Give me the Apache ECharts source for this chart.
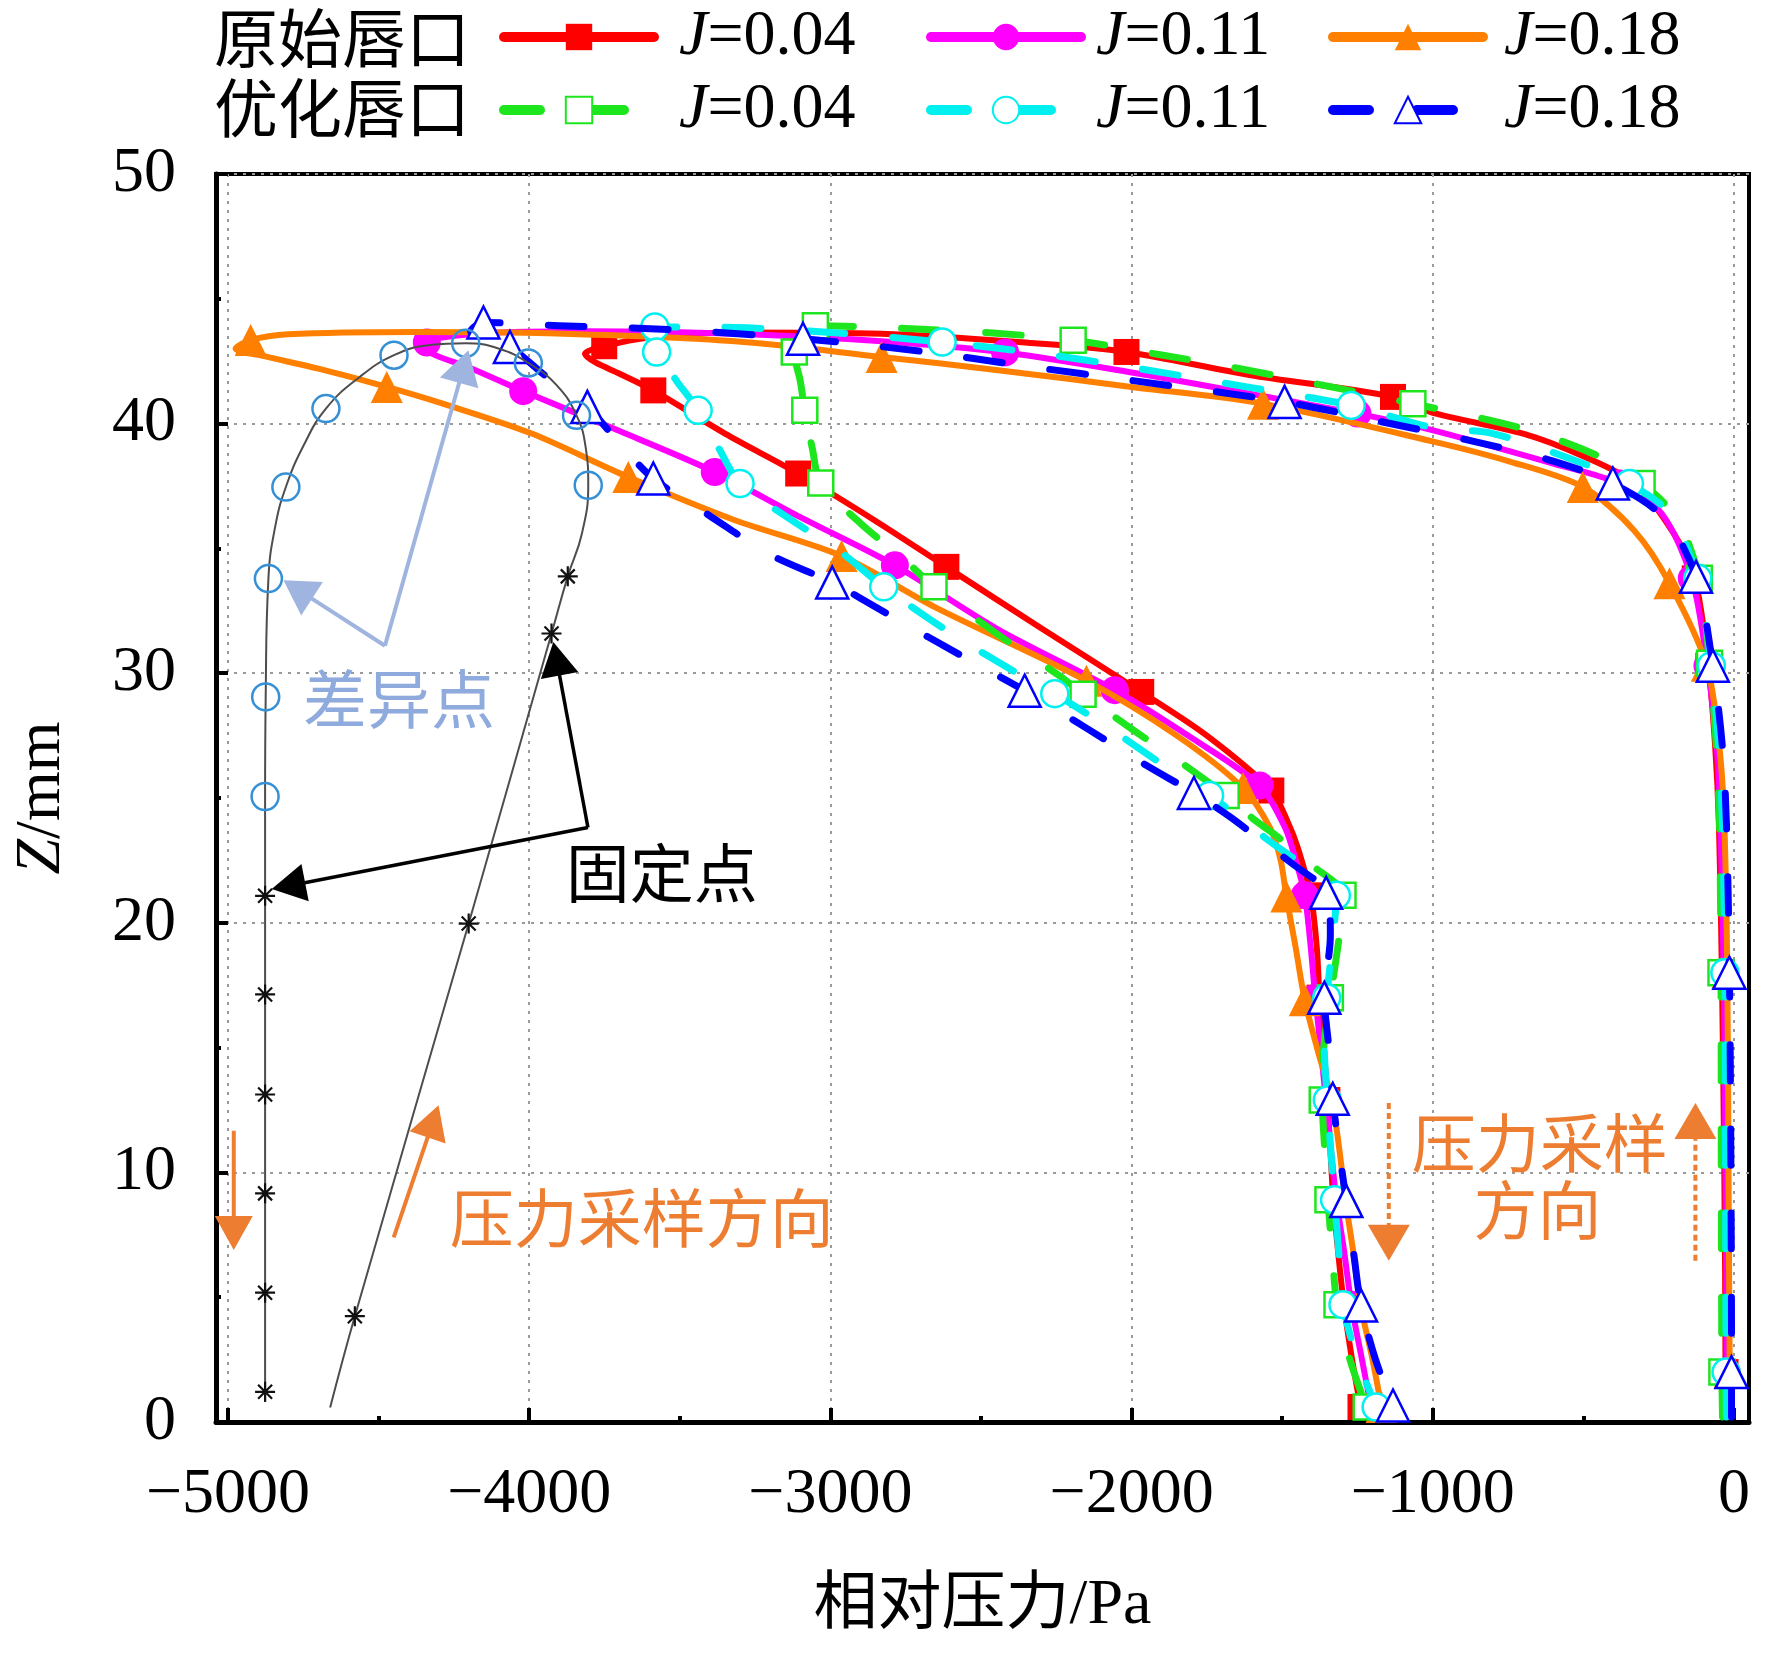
<!DOCTYPE html>
<html><head><meta charset="utf-8">
<script src="https://cdn.jsdelivr.net/npm/echarts@6/dist/echarts.min.js"></script>
<style>html,body{margin:0;padding:0;background:#fff}#c{width:1772px;height:1654px}</style>
</head><body><div id="c"></div>
<script>
// [pressure Pa, Z mm, marker flag]
const origJ004 = [[-28,0.2,0],[-28,2.0,1],[-32,10,0],[-40,18,1],[-50,24,0],[-62,27,0],[-85,30.3,1],[-130,33.8,1],[-200,35.6,0],[-330,37.6,1],[-502,38.7,0],[-700,39.6,0],[-1005,40.45,0],[-1132,41.07,1],[-1608,41.95,0],[-2017,42.87,1],[-2300,43.2,0],[-2830,43.6,0],[-3317,43.65,0],[-3600,43.45,0],[-3751,43.1,1],[-3815,42.8,0],[-3780,42.45,0],[-3700,42.0,0],[-3588,41.33,1],[-3350,39.6,0],[-3107,38.0,1],[-2850,36.1,0],[-2615,34.26,1],[-2300,31.8,0],[-1968,29.25,1],[-1750,27.5,0],[-1536,25.3,1],[-1480,24,0],[-1448,23,0],[-1405,21.1,1],[-1385,19,0],[-1376,17.0,1],[-1362,15,0],[-1350,12.9,1],[-1340,10.9,0],[-1330,8.9,1],[-1315,6.9,0],[-1295,4.7,1],[-1268,2.5,0],[-1240,0.6,1],[-1238,0.3,0]];
const origJ011 = [[-24,0.2,0],[-24,2.0,1],[-28,10,0],[-34,18,1],[-45,24,0],[-57,27,0],[-88,30.3,1],[-140,33.8,1],[-240,36.4,0],[-380,37.6,1],[-600,38.4,0],[-1005,39.75,0],[-1250,40.4,1],[-1608,41.2,0],[-2000,42.05,0],[-2420,42.85,1],[-2830,43.3,0],[-3317,43.6,0],[-3800,43.7,0],[-4150,43.62,0],[-4340,43.25,1],[-4330,42.85,0],[-4200,42.25,0],[-4020,41.3,1],[-3700,39.7,0],[-3384,38.06,1],[-3100,36.25,0],[-2786,34.32,1],[-2450,31.8,0],[-2056,29.32,1],[-1800,27.4,0],[-1575,25.5,1],[-1490,23.8,0],[-1455,22.5,0],[-1425,21.1,1],[-1405,19,0],[-1390,17.0,1],[-1372,15,0],[-1355,12.9,1],[-1338,10.9,0],[-1320,8.9,1],[-1295,6.9,0],[-1270,4.7,1],[-1235,2.5,0],[-1205,0.6,1],[-1200,0.3,0]];
const origJ018 = [[-12,0.2,0],[-14,2.0,1],[-18,10,0],[-22,18,1],[-32,24,0],[-48,27,0],[-90,30.3,1],[-214,33.6,1],[-330,35.7,0],[-502,37.46,1],[-750,38.5,0],[-1005,39.3,0],[-1564,40.8,1],[-2000,41.47,0],[-2450,42.15,0],[-2830,42.67,1],[-3317,43.3,0],[-3937,43.62,0],[-4379,43.67,0],[-4800,43.58,0],[-4925,43.35,1],[-4975,43.0,0],[-4880,42.7,0],[-4700,42.2,0],[-4473,41.47,1],[-4269,40.73,0],[-3992,39.6,0],[-3671,37.86,1],[-3317,36.13,0],[-2963,34.7,1],[-2653,32.65,0],[-2150,29.7,1],[-1850,27.5,0],[-1630,25.4,1],[-1540,23.8,0],[-1505,22.5,0],[-1486,21.05,1],[-1455,19,0],[-1425,16.9,1],[-1380,14.8,0],[-1335,12.9,1],[-1310,10.9,0],[-1290,8.9,1],[-1265,6.9,0],[-1240,4.7,1],[-1200,2.5,0],[-1170,0.6,1],[-1165,0.3,0]];
const optJ004 = [[-38,0.2,0],[-40,2.0,1],[-42,10,0],[-43,18.0,1],[-48,24,0],[-58,27,0],[-81,30.4,1],[-115,33.8,1],[-190,36.2,0],[-305,37.6,1],[-460,38.75,0],[-700,39.8,0],[-1066,40.8,1],[-1350,41.5,0],[-1640,42.2,0],[-1900,42.75,0],[-2194,43.34,1],[-2450,43.62,0],[-2730,43.8,0],[-3050,43.92,1],[-3110,43.5,0],[-3120,42.87,1],[-3100,41.7,0],[-3085,40.53,1],[-3060,39.0,0],[-3032,37.62,1],[-2900,36.0,0],[-2750,34.5,0],[-2656,33.46,1],[-2450,31.6,0],[-2240,29.9,0],[-2161,29.16,1],[-1980,27.6,0],[-1810,26.2,0],[-1686,25.1,1],[-1600,24.2,0],[-1510,23.4,0],[-1400,22.3,0],[-1298,21.1,1],[-1310,19.5,0],[-1340,17.0,1],[-1362,15,0],[-1367,12.9,1],[-1358,10.8,0],[-1348,8.9,1],[-1334,6.8,0],[-1318,4.7,1],[-1275,2.5,0],[-1221,0.6,1],[-1215,0.3,0]];
const optJ011 = [[-25,0.2,0],[-26,2.0,1],[-28,10,0],[-30,18,1],[-38,24,0],[-50,27,0],[-75,30.3,1],[-120,33.8,1],[-215,36.4,0],[-347,37.6,1],[-500,38.4,0],[-800,39.6,0],[-1005,39.85,0],[-1271,40.73,1],[-1608,41.45,0],[-2000,42.25,0],[-2300,42.8,0],[-2629,43.27,1],[-3000,43.65,0],[-3317,43.85,0],[-3583,43.87,1],[-3605,43.4,0],[-3577,42.87,1],[-3510,41.7,0],[-3439,40.53,1],[-3370,39.0,0],[-3300,37.6,1],[-3150,36.3,0],[-2960,34.8,0],[-2823,33.46,1],[-2600,31.6,0],[-2380,30.0,0],[-2255,29.18,1],[-2050,27.6,0],[-1880,26.2,0],[-1741,25.1,1],[-1640,24.2,0],[-1545,23.3,0],[-1430,22.3,0],[-1320,21.1,1],[-1330,19.5,0],[-1352,17.0,1],[-1360,15,0],[-1350,12.9,1],[-1338,10.8,0],[-1326,8.9,1],[-1312,6.8,0],[-1298,4.7,1],[-1250,2.5,0],[-1188,0.6,1],[-1180,0.3,0]];
const optJ018 = [[-8,0.2,0],[-8,2.0,1],[-10,10,0],[-15,18,1],[-25,24,0],[-38,27,0],[-70,30.3,1],[-126,33.86,1],[-230,36.2,0],[-402,37.6,1],[-600,38.5,0],[-850,39.25,0],[-1180,40.1,0],[-1492,40.87,1],[-2000,41.73,0],[-2350,42.3,0],[-2700,42.9,0],[-3091,43.4,1],[-3500,43.75,0],[-3900,43.92,0],[-4152,44.05,1],[-4195,43.7,0],[-4140,43.35,0],[-4064,43.07,1],[-3950,41.95,0],[-3807,40.67,1],[-3700,39.2,0],[-3588,37.8,1],[-3400,36.3,0],[-3200,34.75,0],[-2994,33.63,1],[-2800,32.3,0],[-2550,30.6,0],[-2355,29.3,1],[-2150,27.8,0],[-1950,26.3,0],[-1793,25.2,1],[-1680,24.3,0],[-1580,23.4,0],[-1470,22.4,0],[-1354,21.2,1],[-1340,19.5,0],[-1360,17.0,1],[-1345,15,0],[-1332,12.95,1],[-1310,10.8,0],[-1287,8.85,1],[-1262,6.7,0],[-1238,4.67,1],[-1190,2.5,0],[-1132,0.66,1],[-1120,0.3,0]];
// schematic curve: marker 1 = fixed point (asterisk), 2 = difference point (circle)
const schematic = [[-4877,0.8,0],[-4877,1.21,1],[-4877,5.18,1],[-4877,9.16,1],[-4877,13.12,1],[-4877,17.13,1],[-4877,21.08,1],[-4877,25.06,2],[-4875,29.05,2],[-4866,33.79,2],[-4843,35.9,0],[-4808,37.46,2],[-4750,39.1,0],[-4675,40.6,2],[-4565,41.85,0],[-4449,42.74,2],[-4330,43.15,0],[-4211,43.22,2],[-4100,43.0,0],[-4003,42.43,2],[-3910,41.55,0],[-3843,40.33,2],[-3812,39.0,0],[-3804,37.53,2],[-3825,35.6,0],[-3872,33.88,1],[-3926,31.59,1],[-4201,19.97,1],[-4579,4.24,1],[-4661,0.58,0]];
const xTicks = [-5000,-4000,-3000,-2000,-1000,0];
const xMinorTicks = [-4500,-3500,-2500,-1500,-500];
const seriesNames = ['原始唇口 J=0.04','原始唇口 J=0.11','原始唇口 J=0.18','优化唇口 J=0.04','优化唇口 J=0.11','优化唇口 J=0.18'];
const groupLabels = ['原始唇口','优化唇口'];
// annotation arrows [from, to] in data coordinates
const diffArrows = [[[-4479,31.1],[-4816,33.72]],[[-4479,31.1],[-4202,42.94]]];
const fixedArrows = [[[-3805,23.82],[-4855,21.35]],[[-3805,23.82],[-3920,31.25]]];
const leftSampleArrows = [[[-4981,11.67],[-4981,6.89]],[[-4450,7.4],[-4301,12.69]]];
const rightSampleArrows = [[[-1146,12.78],[-1146,6.46]],[[-128,6.46],[-128,12.78]]];
const notes = [['差异点',[-4432,28.99],'#8faadc'],['固定点',[-3560,22.0],'#000000'],['压力采样方向',[-3626,8.2],'#ed7d31'],['压力采样',[-645,11.2],'#ed7d31'],['方向',[-652,8.5],'#ed7d31']];

const SERIF = "'Liberation Serif','Times New Roman',serif";
const MIX = "'Liberation Serif','Noto Sans CJK SC',serif";
const CJK = "'Noto Sans CJK SC',sans-serif";

function toData(arr){
  return arr.map(p => p[2] ? [p[0],p[1]] : {value:[p[0],p[1]], symbol:'none'});
}
const styles = [
  {c:'#ff0000', sym:'rect', size:26, fill:'#ff0000', dash:'solid', w:6},
  {c:'#ff00ff', sym:'circle', size:28, fill:'#ff00ff', dash:'solid', w:6},
  {c:'#ff8000', sym:'triangle', size:32, fill:'#ff8000', dash:'solid', w:6},
  {c:'#1ee61e', sym:'rect', size:25, fill:'#ffffff', dash:[36,48], w:7},
  {c:'#00f0f0', sym:'circle', size:27, fill:'#ffffff', dash:[36,48], w:7},
  {c:'#0000ff', sym:'triangle', size:32, fill:'#ffffff', dash:[36,48], w:7}
];
const dataSets = [origJ004, origJ011, origJ018, optJ004, optJ011, optJ018];

const series = dataSets.map((d,i) => {
  const s = styles[i];
  const open = s.fill === '#ffffff';
  return {
    name: seriesNames[i], type:'line', data: toData(d), smooth:0.3,
    symbol: s.sym, symbolSize: s.size, showSymbol:true,
    lineStyle:{color:s.c, width:s.w, type:s.dash, cap:'round', join:'round'},
    itemStyle:{color:s.fill, borderColor:s.c, borderWidth: open ? 2.5 : 0, opacity:1},
    emphasis:{disabled:true}, z: 2 + i*0.01
  };
});

const ASTER = 'path://M10,0 L10,20 M0,10 L20,10 M3,3 L17,17 M3,17 L17,3';
series.push({
  name:'schematic', type:'line', smooth:0.45,
  data: schematic.map(p => {
    if (p[2] === 1) return {value:[p[0],p[1]], symbol:ASTER, symbolSize:20, itemStyle:{color:'#000', borderColor:'#111', borderWidth:2.2}};
    if (p[2] === 2) return {value:[p[0],p[1]], symbol:'circle', symbolSize:27, itemStyle:{color:'rgba(0,0,0,0)', borderColor:'#3590d6', borderWidth:2.5}};
    return {value:[p[0],p[1]], symbol:'none'};
  }),
  lineStyle:{color:'#4d4d4d', width:2}, emphasis:{disabled:true}, z:5
});

function legendFor(idx, left, padLeft){
  return {
    data:[seriesNames[idx], seriesNames[idx+3]], orient:'vertical', left:left, top:0,
    itemWidth:150, itemHeight:33, itemGap:9, selectedMode:false,
    formatter: name => '{i|J}=' + name.split('J=')[1],
    lineStyle:{width:10},
    textStyle:{fontFamily:SERIF, fontSize:64, color:'#000', padding:[0,0,0,padLeft],
      rich:{i:{fontFamily:SERIF, fontStyle:'italic', fontSize:64, color:'#000'}}}
  };
}

const chart = echarts.init(document.getElementById('c'), null, {renderer:'canvas'});
chart.setOption({
  animation:false,
  backgroundColor:'#ffffff',
  grid:{left:216, right:23, top:174, bottom:232, show:true, borderColor:'#000', borderWidth:4, backgroundColor:'rgba(0,0,0,0)'},
  legend:[legendFor(0,494,20), legendFor(1,921,10), legendFor(2,1323,16)],
  xAxis:[{
    type:'value', min:-5040, max:50, splitNumber:5, position:'bottom',
    name:'相对压力/Pa', nameLocation:'middle', nameGap:152,
    nameTextStyle:{fontFamily:MIX, fontSize:64, color:'#000'},
    axisLine:{show:true, onZero:false, lineStyle:{color:'#000', width:5}},
    axisTick:{show:true, inside:true, length:14, customValues:xTicks, lineStyle:{color:'#000', width:4}},
    axisLabel:{customValues:xTicks, fontFamily:SERIF, fontSize:64, color:'#000', margin:41,
      formatter: v => v < 0 ? '\u2212' + Math.abs(v) : String(v)},
    splitLine:{show:true, lineStyle:{color:'#9a9a9a', width:2, type:[3,6]}}
  },{
    type:'value', min:-5040, max:50, position:'bottom', gridIndex:0,
    axisLine:{show:false, onZero:false},
    axisTick:{show:true, inside:true, length:6, customValues:xMinorTicks, lineStyle:{color:'#000', width:4}},
    axisLabel:{show:false}, splitLine:{show:false}
  }],
  yAxis:{
    type:'value', min:0, max:50, interval:10,
    name:'{i|Z}/mm', nameLocation:'middle', nameGap:142,
    nameTextStyle:{fontFamily:SERIF, fontSize:64, color:'#000',
      rich:{i:{fontFamily:SERIF, fontStyle:'italic', fontSize:64, color:'#000'}}},
    axisLine:{show:true, onZero:false, lineStyle:{color:'#000', width:5}},
    axisTick:{show:true, inside:true, length:12, lineStyle:{color:'#000', width:4}},
    minorTick:{show:true, splitNumber:2, length:5, lineStyle:{color:'#000', width:4}},
    axisLabel:{fontFamily:SERIF, fontSize:64, color:'#000', margin:40},
    splitLine:{show:true, lineStyle:{color:'#9a9a9a', width:2, type:[3,6]}}
  },
  series: series
});

function px(p){ return chart.convertToPixel({seriesIndex:0}, p); }
function arrowEls(seg, color, lw, dash, hl, hw){
  const a = px(seg[0]), b = px(seg[1]);
  const dx = b[0]-a[0], dy = b[1]-a[1], L = Math.hypot(dx,dy);
  const ux = dx/L, uy = dy/L, nx = -uy, ny = ux;
  const bx = b[0]-ux*hl, by = b[1]-uy*hl;
  return [
    {type:'line', z:100, shape:{x1:a[0], y1:a[1], x2:bx+ux*3, y2:by+uy*3},
      style:{stroke:color, lineWidth:lw, lineDash:dash || null}},
    {type:'polygon', z:101, shape:{points:[[b[0],b[1]],[bx+nx*hw/2,by+ny*hw/2],[bx-nx*hw/2,by-ny*hw/2]]},
      style:{fill:color}}
  ];
}
let g = [];
diffArrows.forEach(s => g = g.concat(arrowEls(s, '#9fb4de', 4, null, 34, 40)));
fixedArrows.forEach(s => g = g.concat(arrowEls(s, '#000000', 3.5, null, 34, 38)));
leftSampleArrows.forEach(s => g = g.concat(arrowEls(s, '#ed7d31', 4, null, 34, 38)));
rightSampleArrows.forEach(s => g = g.concat(arrowEls(s, '#ed7d31', 4, [6,4], 36, 42)));
notes.forEach(n => {
  const p = px(n[1]);
  g.push({type:'text', z:102, x:p[0], y:p[1], style:{text:n[0], fill:n[2], font:'64px ' + CJK, align:'center', verticalAlign:'middle'}});
});
groupLabels.forEach((t,i) => {
  g.push({type:'text', z:102, x:214, y: i === 0 ? 38 : 108, style:{text:t, fill:'#000', font:'64px ' + CJK, align:'left', verticalAlign:'middle'}});
});
chart.setOption({graphic: g});
</script></body></html>
